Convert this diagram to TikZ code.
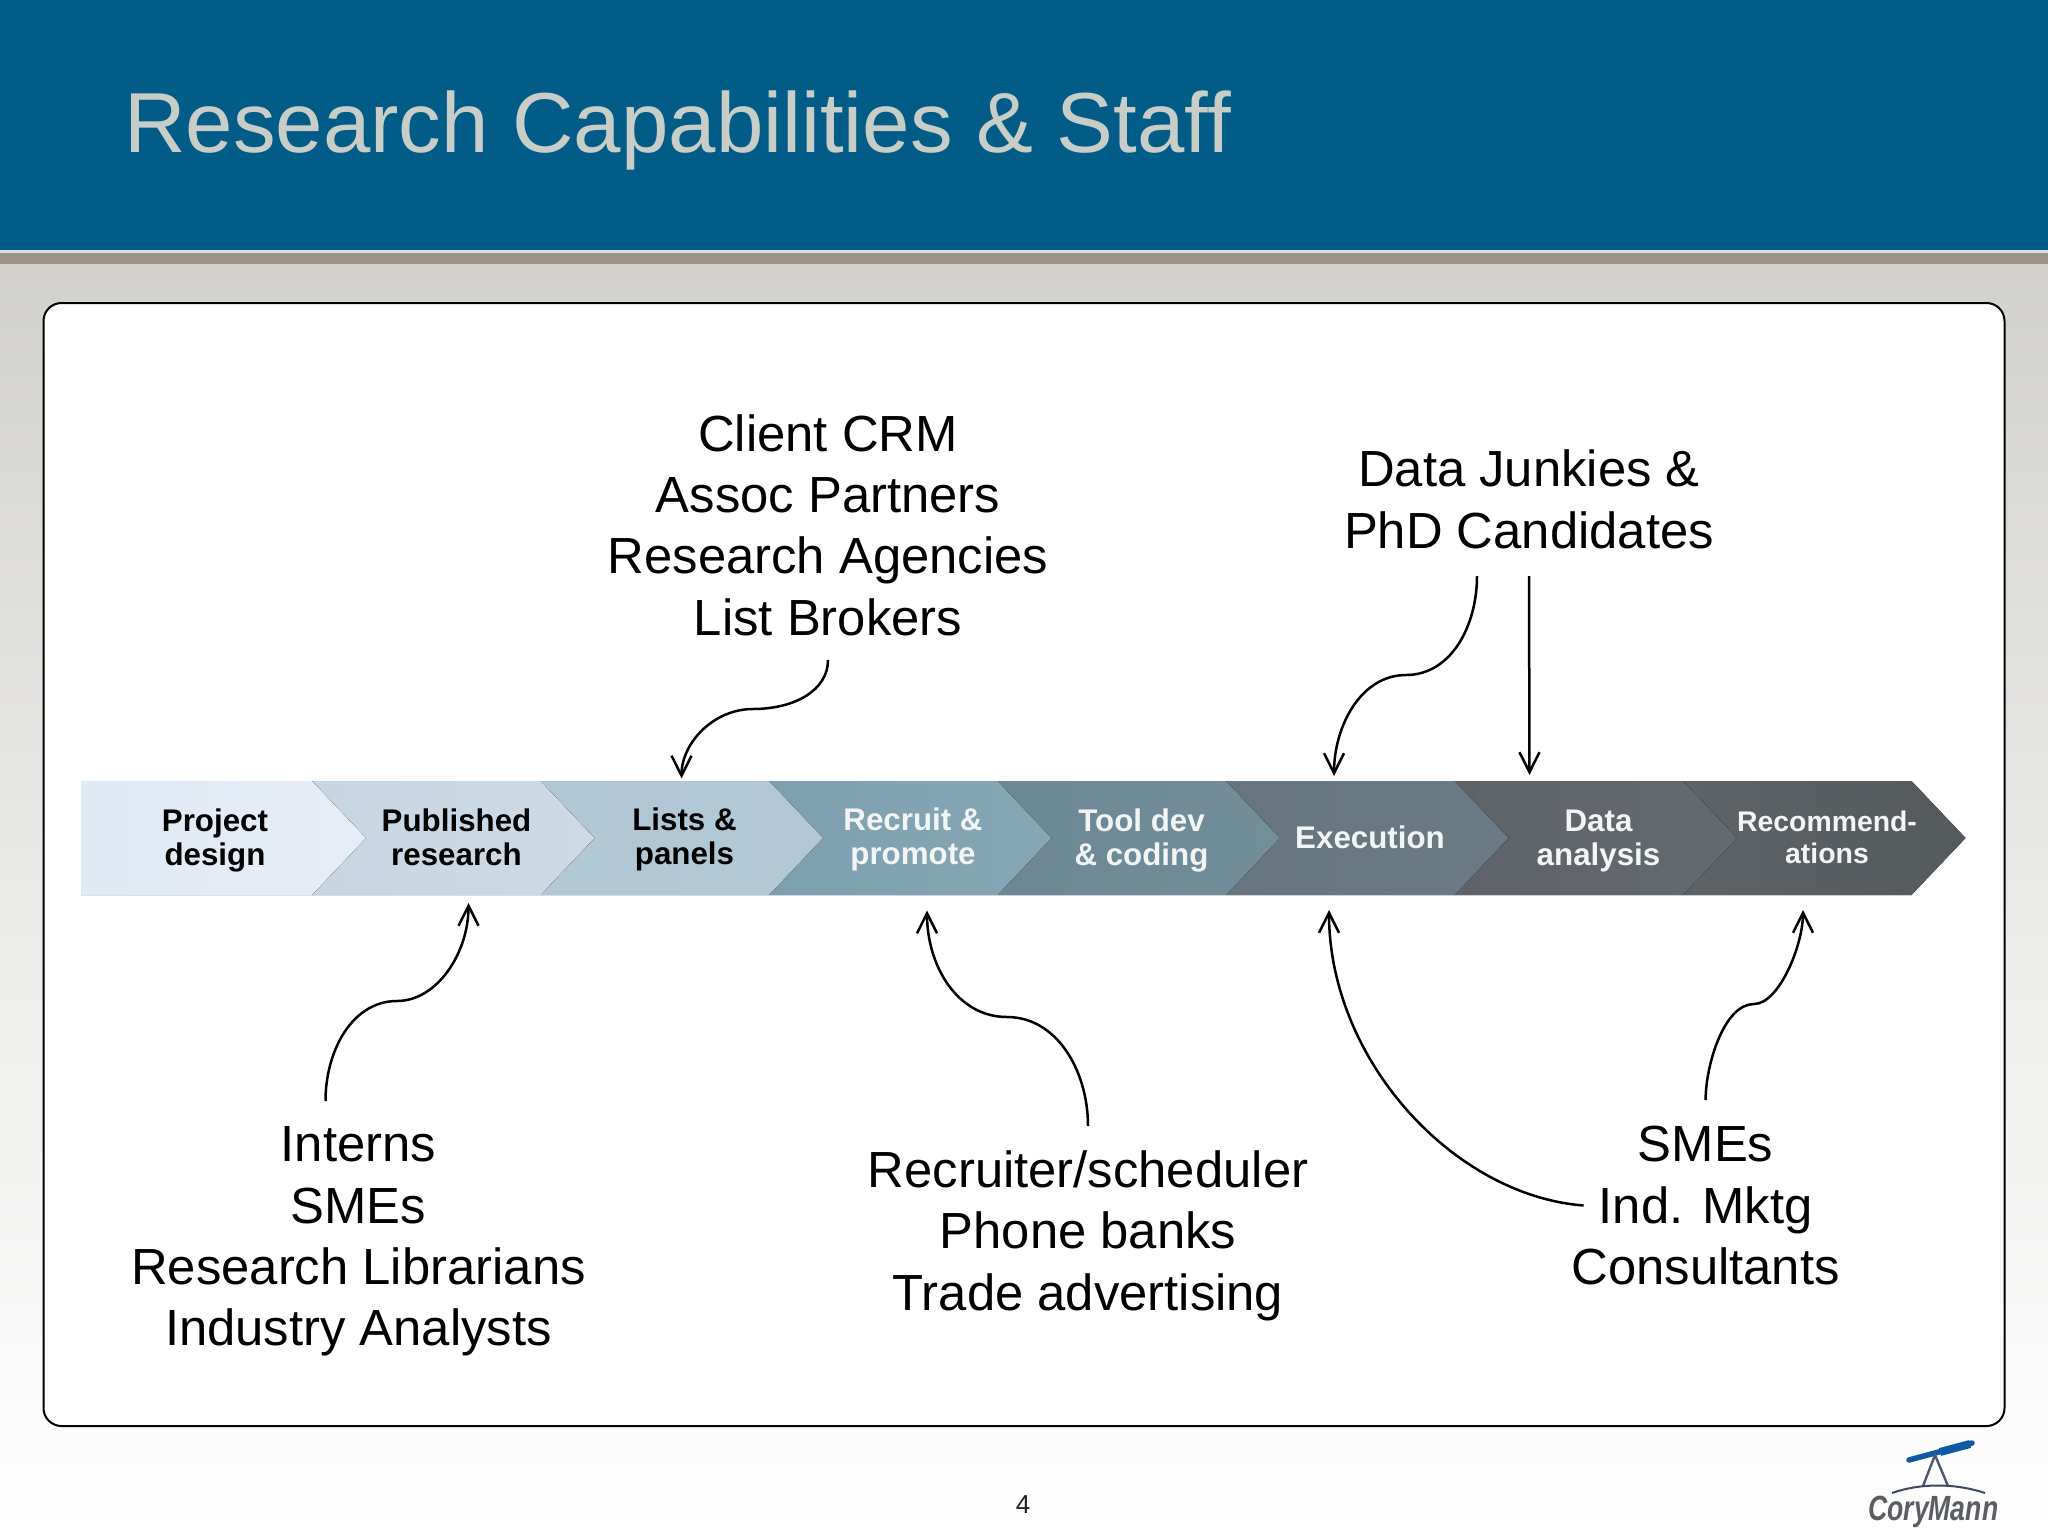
\documentclass[tikz,border=0pt]{standalone}
\usepackage{fontspec}
\setmainfont{Liberation Sans}
\usetikzlibrary{arrows.meta,calc}
\definecolor{hdr}{HTML}{015C88}
\definecolor{bar}{HTML}{9B9383}
\definecolor{bgtop}{HTML}{D2D1CD}
\definecolor{ttl}{HTML}{C9CDC8}
\definecolor{cha}{HTML}{DFEAF4}\definecolor{chb}{HTML}{E7EDF7}
\definecolor{chc}{HTML}{C6D6E2}\definecolor{chd}{HTML}{CEDBE7}
\definecolor{che}{HTML}{B0C7D5}\definecolor{chf}{HTML}{B2C8D6}
\definecolor{chg}{HTML}{7D9FAF}\definecolor{chh}{HTML}{87A7B6}
\definecolor{chi}{HTML}{6C8795}\definecolor{chj}{HTML}{728E9B}
\definecolor{chk}{HTML}{66757F}\definecolor{chl}{HTML}{6A7B86}
\definecolor{chm}{HTML}{5E6369}\definecolor{chn}{HTML}{636A70}
\definecolor{cho}{HTML}{5D6367}\definecolor{chp}{HTML}{54595C}
\definecolor{ltxt}{HTML}{F2F5F6}
\definecolor{pgnum}{HTML}{222222}
\definecolor{lgblue}{HTML}{0F5AA5}
\definecolor{lgtri}{HTML}{4A5A75}
\definecolor{lgarc}{HTML}{3A4A60}
\definecolor{lgtxt}{HTML}{5A5D61}
\tikzset{
  x=1pt,y=-1pt,
  big/.style={font=\fontsize{50.8}{61.4}\selectfont,align=center,inner sep=0pt,text=black},
  chevtxt/.style={font=\bfseries\fontsize{31.3}{34}\selectfont,align=center,inner sep=0pt},
  conn/.style={line width=2.5pt,draw=black,-{Straight Barb[length=20pt,width=20pt,line width=2.5pt]}},
}
\newcommand{\chev}[4]{% left x, shoulder x, left col, right col
  \fill[left color=#3,right color=#4] (#1,781) -- (#2,781) -- ({#2+54},838) -- (#2,895) -- (#1,895) -- ({#1+54},838) -- cycle;}
\begin{document}
\begin{tikzpicture}
\useasboundingbox (0,0) rectangle (2048,1536);
\shade[top color=bgtop,bottom color=white,middle color=bgtop!45!white] (0,264) rectangle (2048,1536);
\fill[hdr] (0,0) rectangle (2048,250);
\fill[bgtop!70!white] (0,250) rectangle (2048,253);
\fill[bar] (0,253) rectangle (2048,264);
\draw[line width=2pt,fill=white,rounded corners=18pt] (43.5,303) rectangle (2004.5,1426);
\node[anchor=base west,inner sep=0pt,text=ttl,font=\fontsize{85.2}{90}\selectfont] (title) at (124,153) {Research Capabilities \& Staff};
% chevrons, right to left
\chev{1683}{1911.5}{cho}{chp}
\chev{1454.5}{1683}{chm}{chn}
\chev{1226}{1454.5}{chk}{chl}
\chev{997.5}{1226}{chi}{chj}
\chev{769}{997.5}{chg}{chh}
\chev{540.5}{769}{che}{chf}
\chev{312}{540.5}{chc}{chd}
\fill[left color=cha,right color=chb] (81,781) -- (312,781) -- (366,838) -- (312,895) -- (81,895) -- cycle;
% chevron labels
\node[chevtxt] (c1) at (215,840.6) {Project\\design};
\node[chevtxt] (c2) at (456.5,837) {Published\\research};
\node[chevtxt] (c3) at (684.5,839.5) {Lists \&\\panels};
\node[chevtxt,text=ltxt] (c4) at (913,839.5) {Recruit \&\\promote};
\node[chevtxt,text=ltxt] (c5) at (1141.5,840.6) {Tool dev\\\& coding};
\node[chevtxt,text=ltxt] (c6) at (1370,837) {Execution};
\node[chevtxt,text=ltxt] (c7) at (1598.5,840.6) {Data\\analysis};
\node[chevtxt,text=ltxt,font=\bfseries\fontsize{28.4}{32}\selectfont] (c8) at (1827,837.5) {Recommend-\\ations};
% text blocks
\node[big] (client) at (828,525) {Client CRM\\Assoc Partners\\Research Agencies\\List Brokers};
\node[big] (junk) at (1529,499.5) {Data Junkies \&\\PhD Candidates};
\node[big] (interns) at (358.5,1241.5) {Interns\\SMEs\\Research Librarians\\Industry Analysts};
\node[big] (recr) at (1088,1235.5) {Recruiter/scheduler\\Phone banks\\Trade advertising};
\node[big] (smes) at (1705.6,1205.5) {SMEs\\Ind. Mktg\\Consultants};
% connectors
\draw[conn] ($(client)+(0,135)$) .. controls +(0,30) and +(42,0) .. (753,709) .. controls +(-40,0) and +(0,-35) .. ($(c3)+(-3,-61)$);
\draw[conn] ($(junk)+(-52,76.5)$) .. controls +(0,50) and +(45,0) .. (1406,675) .. controls +(-45,0) and +(0,-50) .. ($(c6)+(-36,-61)$);
\draw[conn] ($(junk)+(0,76.5)$) -- ($(c7)+(-69,-65.6)$);
\draw[conn] ($(interns)+(-33,-140.5)$) .. controls +(0,-50) and +(-45,0) .. (397,1001) .. controls +(40,0) and +(0,50) .. ($(c2)+(12,66)$);
\draw[conn] ($(recr)+(0,-109.5)$) .. controls +(0,-55) and +(50,0) .. (1007,1017) .. controls +(-50,0) and +(0,55) .. ($(c4)+(14,71)$);
\draw[conn] ($(smes)+(-122,0)$) .. controls +(-130,-10) and +(0,150) .. ($(c6)+(-41,73)$);
\draw[conn] ($(smes)+(0,-105.5)$) .. controls +(0,-35) and +(-30,0) .. (1754,1004) .. controls +(25,0) and +(0,35) .. ($(c8)+(-24,72.5)$);
% page number
\node[inner sep=0pt,font=\fontsize{26}{30}\selectfont,text=pgnum] (pg) at (1023,1505) {4};
% logo
\draw[line width=5.5pt,lgblue,line cap=round] (1909,1460) -- (1972,1443);
\draw[line width=8pt,lgblue] (1940,1452) -- (1970,1444);
\draw[line width=2.4pt,lgtri] (1923,1486) -- (1935,1455) -- (1948,1486);
\draw[line width=2pt,lgarc] (1892,1493) .. controls (1920,1483) and (1955,1483) .. (1985,1493);
\node[anchor=base west,inner sep=0pt,text=lgtxt,font=\bfseries\itshape\fontsize{35}{40}\selectfont] (logo) at (1868,1520) {\scalebox{0.76}[1]{CoryMann}};
\end{tikzpicture}
\end{document}
